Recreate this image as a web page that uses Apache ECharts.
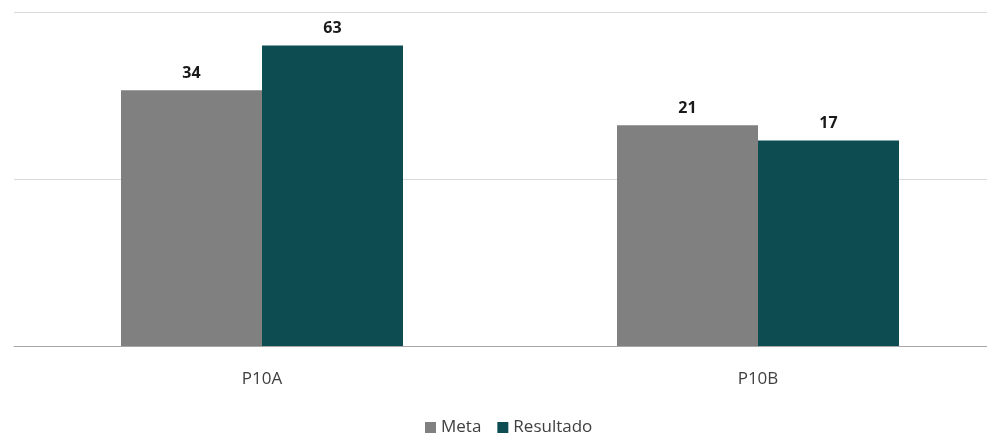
<!DOCTYPE html>
<html>
<head>
<meta charset="utf-8">
<script src="https://cdn.jsdelivr.net/npm/echarts@6/dist/echarts.min.js"></script>
<style>html,body{margin:0;padding:0;background:#fff;overflow:hidden;width:987px;height:434px}#c{width:1006px;height:434px}</style>
</head>
<body>
<div id="c"></div>
<script>
var categories = ['P10A', 'P10B'];
var seriesNames = ['Meta', 'Resultado'];
var metaValues = [34, 21];
var resultadoValues = [63, 17];

var chart = echarts.init(document.getElementById('c'), null, {renderer: 'canvas'});
var font = '"Open Sans", "Liberation Sans", sans-serif';
var labelStyle = {show: true, position: 'top', distance: 9, fontWeight: 'bold', fontSize: 16, color: '#1a1a1a', fontFamily: font};
chart.setOption({
  animation: false,
  grid: {left: 14, right: 0, top: 12, bottom: 88, containLabel: false},
  legend: {
    data: seriesNames, top: 414, left: 420, itemWidth: 11, itemHeight: 11, itemGap: 16,
    icon: 'rect',
    textStyle: {fontSize: 17, color: '#404040', fontFamily: font}
  },
  xAxis: {
    type: 'category', data: categories,
    axisLine: {lineStyle: {color: '#a6a6a6', width: 1}},
    axisTick: {show: false},
    axisLabel: {fontSize: 17, color: '#404040', margin: 25, fontFamily: font}
  },
  yAxis: {
    type: 'log', logBase: 10, min: 1, max: 100,
    axisLine: {show: false}, axisTick: {show: false}, axisLabel: {show: false},
    splitLine: {lineStyle: {color: '#d9d9d9', width: 1}}
  },
  series: [
    {name: 'Meta', type: 'bar', data: metaValues, barWidth: 141, barGap: '0%', itemStyle: {color: '#808080'}, label: labelStyle},
    {name: 'Resultado', type: 'bar', data: resultadoValues, barWidth: 141, barGap: '0%', itemStyle: {color: '#0d4d52'}, label: labelStyle}
  ]
});
</script>
</body>
</html>
